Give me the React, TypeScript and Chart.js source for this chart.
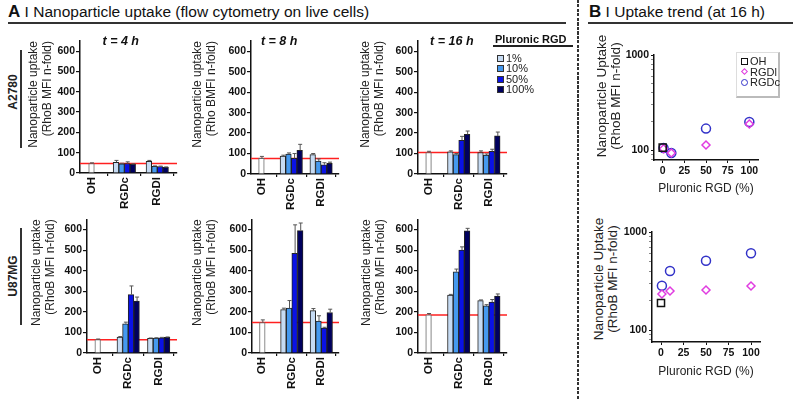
import React, { useEffect, useRef } from 'react';
import { Chart, registerables } from 'chart.js';
Chart.register(...registerables);

const FONT = "'Liberation Sans', Arial, Helvetica, sans-serif";

const groups = ['OH', 'RGDc', 'RGDl'];
const levels = ['1%', '10%', '50%', '100%'];
const levelColors = ['#c6dbf3', '#4599ef', '#0a12e6', '#00005e'];
const timeTitles = ['t = 4 h', 't = 8 h', 't = 16 h'];

// A2780 (values per time point: 4 h, 8 h, 16 h)
const a2780OH = [47, 76, 105];
const a2780OHErr = [3, 10, 6];
const a2780RGDc4h = [53, 45, 47, 43];
const a2780RGDc4hErr = [9, 3, 8, 2];
const a2780RGDl4h = [57, 33, 32, 28];
const a2780RGDl4hErr = [5, 2, 2, 2];
const a2780RGDc8h = [87, 97, 76, 116];
const a2780RGDc8hErr = [5, 6, 24, 29];
const a2780RGDl8h = [95, 63, 45, 52];
const a2780RGDl8hErr = [5, 11, 10, 6];
const a2780RGDc16h = [108, 95, 165, 194];
const a2780RGDc16hErr = [5, 5, 19, 16];
const a2780RGDl16h = [105, 92, 111, 186];
const a2780RGDl16hErr = [8, 6, 10, 19];

// U87MG
const u87OH = [65, 148, 185];
const u87OHErr = [3, 13, 7];
const u87RGDc4h = [77, 142, 284, 252];
const u87RGDc4hErr = [3, 8, 42, 20];
const u87RGDl4h = [71, 72, 74, 76];
const u87RGDl4hErr = [2, 2, 2, 2];
const u87RGDc8h = [211, 218, 484, 595];
const u87RGDc8hErr = [7, 37, 139, 37];
const u87RGDl8h = [206, 155, 121, 197];
const u87RGDl8hErr = [10, 26, 4, 16];
const u87RGDc16h = [281, 395, 500, 594];
const u87RGDc16hErr = [4, 13, 16, 12];
const u87RGDl16h = [255, 229, 247, 277];
const u87RGDl16hErr = [3, 6, 13, 10];

// Panel B: uptake trend at 16 h
const trendOHX = [0];
const trendX = [1, 10, 50, 100];
const trendXTicks = [0, 25, 50, 75, 100];
const trendA2780OH = [106];
const trendA2780RGDl = [103, 93, 113, 188];
const trendA2780RGDc = [105, 93, 168, 197];
const trendU87OH = [189];
const trendU87RGDl = [233, 250, 256, 281];
const trendU87RGDc = [283, 400, 510, 606];

const barTicks = [0, 100, 200, 300, 400, 500, 600];

type Rect = { x: number; y: number; w: number; h: number };
type Plot = { l: number; r: number; t: number; b: number };

const errorBarPlugin = {
  id: 'errbars',
  afterDatasetsDraw(chart: any) {
    const ctx = chart.ctx;
    const ys = chart.scales.y;
    chart.data.datasets.forEach((ds: any, di: number) => {
      const meta = chart.getDatasetMeta(di);
      meta.data.forEach((el: any, i: number) => {
        const v = ds.data[i].y;
        const e = ds.errors ? ds.errors[i] : 0;
        if (v == null || !e) return;
        const y0 = ys.getPixelForValue(v);
        const y1 = ys.getPixelForValue(v + e);
        ctx.save();
        ctx.strokeStyle = '#555';
        ctx.lineWidth = 1;
        ctx.beginPath();
        ctx.moveTo(el.x + 0.5, y0);
        ctx.lineTo(el.x + 0.5, y1);
        ctx.moveTo(el.x - 1.5, y1);
        ctx.lineTo(el.x + 2.5, y1);
        ctx.stroke();
        ctx.restore();
      });
    });
  },
};

const refLinePlugin = {
  id: 'refline',
  beforeDatasetsDraw(chart: any) {
    const ctx = chart.ctx;
    const ys = chart.scales.y;
    const v = chart.data.datasets[0].data[0].y;
    const y = ys.getPixelForValue(v);
    const a = chart.chartArea;
    ctx.save();
    ctx.strokeStyle = '#ff2020';
    ctx.lineWidth = 1.5;
    ctx.beginPath();
    ctx.moveTo(a.left, y);
    ctx.lineTo(a.right, y);
    ctx.stroke();
    ctx.restore();
  },
};

const panelTitlePlugin = {
  id: 'panelTitle',
  afterDraw(chart: any, _args: any, opts: any) {
    if (!opts || !opts.text) return;
    const ctx = chart.ctx;
    const a = chart.chartArea;
    ctx.save();
    ctx.font = `italic bold 12.5px ${FONT}`;
    ctx.fillStyle = '#111';
    ctx.textAlign = 'center';
    ctx.textBaseline = 'middle';
    ctx.fillText(opts.text, a.left + opts.frac * (a.right - a.left), a.top + 1);
    ctx.restore();
  },
};

function makeBarConfig(
  canvas: Rect,
  plot: Plot,
  oh: number,
  ohErr: number,
  rgdc: number[],
  rgdcErr: number[],
  rgdl: number[],
  rgdlErr: number[],
  yTitle2: string,
  title: string,
  titleFrac: number
) {
  const datasets: any[] = [
    {
      label: 'OH',
      data: [
        { x: 0, y: oh },
        { x: 1, y: null },
        { x: 2, y: null },
      ],
      errors: [ohErr, 0, 0],
      backgroundColor: '#ffffff',
      borderColor: '#666',
      borderWidth: 1,
    },
    ...levels.map((lv, i) => ({
      label: lv,
      data: [
        { x: 0, y: null },
        { x: 1, y: rgdc[i] },
        { x: 2, y: rgdl[i] },
      ],
      errors: [0, rgdcErr[i], rgdlErr[i]],
      backgroundColor: levelColors[i],
      borderColor: '#222',
      borderWidth: 1,
    })),
  ];
  return {
    type: 'bar',
    data: { datasets },
    options: {
      animation: false,
      responsive: false,
      maintainAspectRatio: false,
      layout: {
        padding: {
          left: 0,
          bottom: 0,
          top: plot.t - canvas.y,
          right: canvas.x + canvas.w - plot.r,
        },
      },
      datasets: { bar: { barThickness: 5.6, skipNull: true, grouped: true } },
      plugins: {
        legend: { display: false },
        tooltip: { enabled: false },
        panelTitle: { text: title, frac: titleFrac },
      },
      scales: {
        x: {
          type: 'linear',
          min: -0.35,
          max: 2.6,
          offset: false,
          afterBuildTicks: (s: any) => {
            s.ticks = groups.map((_, i) => ({ value: i }));
          },
          afterFit: (s: any) => {
            s.height = canvas.y + canvas.h - plot.b;
          },
          grid: { display: true, drawOnChartArea: false, tickLength: 3, color: '#111', lineWidth: 1.2 },
          border: { display: true, color: '#111', width: 1.5 },
          ticks: {
            autoSkip: false,
            minRotation: 90,
            maxRotation: 90,
            padding: 1,
            color: '#111',
            font: { family: FONT, size: 11.5, weight: 'bold' },
            callback: (v: any) => groups[v] ?? '',
          },
        },
        y: {
          min: 0,
          max: 650,
          afterBuildTicks: (s: any) => {
            s.ticks = barTicks.map((v) => ({ value: v }));
          },
          afterFit: (s: any) => {
            s.width = plot.l - canvas.x;
          },
          grid: { display: true, drawOnChartArea: false, tickLength: 4, color: '#111', lineWidth: 1.2 },
          border: { display: true, color: '#111', width: 1.5 },
          ticks: {
            padding: 1,
            color: '#111',
            font: { family: FONT, size: 10.5, weight: 'bold' },
          },
          title: {
            display: true,
            text: ['Nanoparticle uptake', yTitle2],
            align: 'end',
            padding: 0,
            color: '#222',
            font: { family: FONT, size: 12, lineHeight: 1.15 },
          },
        },
      },
    },
    plugins: [refLinePlugin, errorBarPlugin, panelTitlePlugin],
  };
}

function logTicks(min: number) {
  const out: number[] = [];
  [10, 100].forEach((d) => {
    for (let k = 1; k <= 9; k++) {
      const v = k * d;
      if (v >= min && v <= 1000) out.push(v);
    }
  });
  out.push(1000);
  return out;
}

function makeScatterConfig(
  canvas: Rect,
  plot: Plot,
  yMin: number,
  ohY: number[],
  rgdlY: number[],
  rgdcY: number[]
) {
  return {
    type: 'scatter',
    data: {
      datasets: [
        {
          label: 'OH',
          data: trendOHX.map((x, i) => ({ x, y: ohY[i] })),
          pointStyle: 'rect',
          radius: 5,
          borderColor: '#111',
          backgroundColor: 'rgba(0,0,0,0)',
          borderWidth: 1.5,
        },
        {
          label: 'RGDl',
          data: trendX.map((x, i) => ({ x, y: rgdlY[i] })),
          pointStyle: 'rectRot',
          radius: 4,
          borderColor: '#e03ce0',
          backgroundColor: 'rgba(0,0,0,0)',
          borderWidth: 1.5,
        },
        {
          label: 'RGDc',
          data: trendX.map((x, i) => ({ x, y: rgdcY[i] })),
          pointStyle: 'circle',
          radius: 4.5,
          borderColor: '#3232c8',
          backgroundColor: 'rgba(0,0,0,0)',
          borderWidth: 1.5,
        },
      ],
    },
    options: {
      animation: false,
      responsive: false,
      maintainAspectRatio: false,
      layout: {
        padding: {
          left: 0,
          bottom: 0,
          top: plot.t - canvas.y,
          right: canvas.x + canvas.w - plot.r,
        },
      },
      plugins: { legend: { display: false }, tooltip: { enabled: false } },
      scales: {
        x: {
          type: 'linear',
          min: -10,
          max: 110,
          afterBuildTicks: (s: any) => {
            s.ticks = trendXTicks.map((v) => ({ value: v }));
          },
          afterFit: (s: any) => {
            s.height = canvas.y + canvas.h - plot.b;
          },
          grid: { display: true, drawOnChartArea: false, tickLength: 3, color: '#111' },
          border: { display: true, color: '#111', width: 1.5 },
          ticks: {
            maxRotation: 0,
            padding: 2,
            color: '#111',
            font: { family: FONT, size: 10.5, weight: 'bold' },
          },
          title: {
            display: true,
            text: 'Pluronic RGD (%)',
            padding: 0,
            color: '#222',
            font: { family: FONT, size: 12 },
          },
        },
        y: {
          type: 'logarithmic',
          min: yMin,
          max: 1000,
          afterBuildTicks: (s: any) => {
            s.ticks = logTicks(yMin).map((v) => ({ value: v, major: v === 100 || v === 1000 }));
          },
          afterFit: (s: any) => {
            s.width = plot.l - canvas.x;
          },
          grid: {
            display: true,
            drawOnChartArea: false,
            tickLength: 3,
            tickColor: (c: any) => (c.tick && (c.tick.value === 100 || c.tick.value === 1000) ? '#111' : '#888'),
          },
          border: { display: true, color: '#111', width: 1.5 },
          ticks: {
            autoSkip: false,
            padding: 2,
            color: '#111',
            font: { family: FONT, size: 10.5, weight: 'bold' },
            callback: (v: any) => (v === 100 || v === 1000 ? String(v) : ''),
          },
        },
      },
    },
  };
}

function ChartBox({ rect, make }: { rect: Rect; make: () => any }) {
  const ref = useRef<HTMLCanvasElement>(null);
  useEffect(() => {
    const chart = new Chart(ref.current as HTMLCanvasElement, make());
    return () => chart.destroy();
  }, []);
  return (
    <canvas
      ref={ref}
      width={rect.w}
      height={rect.h}
      style={{ position: 'absolute', left: rect.x, top: rect.y, width: rect.w, height: rect.h }}
    />
  );
}

const abs = (s: any) => ({ position: 'absolute' as const, ...s });

function RotLabel({ x, y, children, style }: any) {
  return (
    <div
      style={abs({
        left: x,
        top: y,
        transform: 'translate(-50%, -50%) rotate(-90deg)',
        whiteSpace: 'nowrap',
        fontFamily: FONT,
        ...style,
      })}
    >
      {children}
    </div>
  );
}

export default function App() {
  const barSpecs = [
    { c: { x: 27, y: 30, w: 155, h: 182 }, p: { l: 80, r: 177, t: 41, b: 173 }, oh: a2780OH[0], ohE: a2780OHErr[0], rc: a2780RGDc4h, rcE: a2780RGDc4hErr, rl: a2780RGDl4h, rlE: a2780RGDl4hErr, t2: '(RhoB MFI n-fold)', title: timeTitles[0], frac: 0.42 },
    { c: { x: 191, y: 30, w: 153, h: 182 }, p: { l: 251, r: 339, t: 41, b: 174 }, oh: a2780OH[1], ohE: a2780OHErr[1], rc: a2780RGDc8h, rcE: a2780RGDc8hErr, rl: a2780RGDl8h, rlE: a2780RGDl8hErr, t2: '(Rho BMFI n-fold)', title: timeTitles[1], frac: 0.32 },
    { c: { x: 359, y: 30, w: 153, h: 182 }, p: { l: 418, r: 507, t: 41, b: 174 }, oh: a2780OH[2], ohE: a2780OHErr[2], rc: a2780RGDc16h, rcE: a2780RGDc16hErr, rl: a2780RGDl16h, rlE: a2780RGDl16hErr, t2: '(RhoB MFI n-fold)', title: timeTitles[2], frac: 0.38 },
    { c: { x: 30, y: 212, w: 152, h: 188 }, p: { l: 87, r: 177, t: 219, b: 353 }, oh: u87OH[0], ohE: u87OHErr[0], rc: u87RGDc4h, rcE: u87RGDc4hErr, rl: u87RGDl4h, rlE: u87RGDl4hErr, t2: '(RhoB MFI n-fold)', title: '', frac: 0 },
    { c: { x: 191, y: 212, w: 153, h: 188 }, p: { l: 252, r: 339, t: 219, b: 353 }, oh: u87OH[1], ohE: u87OHErr[1], rc: u87RGDc8h, rcE: u87RGDc8hErr, rl: u87RGDl8h, rlE: u87RGDl8hErr, t2: '(RhoB MFI n-fold)', title: '', frac: 0 },
    { c: { x: 360, y: 212, w: 152, h: 188 }, p: { l: 418, r: 507, t: 219, b: 353 }, oh: u87OH[2], ohE: u87OHErr[2], rc: u87RGDc16h, rcE: u87RGDc16hErr, rl: u87RGDl16h, rlE: u87RGDl16hErr, t2: '(RhoB MFI n-fold)', title: '', frac: 0 },
  ];

  const scTop = { c: { x: 622, y: 45, w: 148, h: 151 }, p: { l: 654, r: 758, t: 55, b: 160 } };
  const scBot = { c: { x: 620, y: 222, w: 152, h: 157 }, p: { l: 652, r: 760, t: 232, b: 342 } };

  const textStyle = { fontFamily: FONT, color: '#222' };

  return (
    <div style={abs({ left: 0, top: 0, width: 793, height: 400, background: '#fff', overflow: 'hidden' })}>
      {barSpecs.map((s, i) => (
        <ChartBox
          key={i}
          rect={s.c}
          make={() => makeBarConfig(s.c, s.p, s.oh, s.ohE, s.rc, s.rcE, s.rl, s.rlE, s.t2, s.title, s.frac)}
        />
      ))}
      <ChartBox rect={scTop.c} make={() => makeScatterConfig(scTop.c, scTop.p, 78.5, trendA2780OH, trendA2780RGDl, trendA2780RGDc)} />
      <ChartBox rect={scBot.c} make={() => makeScatterConfig(scBot.c, scBot.p, 75.5, trendU87OH, trendU87RGDl, trendU87RGDc)} />

      {/* Header A */}
      <div style={abs({ left: 8, top: 4, fontSize: 15.5, lineHeight: '16px', whiteSpace: 'nowrap', ...textStyle, color: '#111' })}>
        <b style={{ fontSize: 17 }}>A</b> I Nanoparticle uptake (flow cytometry on live cells)
      </div>
      <div style={abs({ left: 8, top: 22, width: 558, height: 2, background: '#333' })} />

      {/* Header B */}
      <div style={abs({ left: 589, top: 4, fontSize: 15.5, lineHeight: '16px', whiteSpace: 'nowrap', ...textStyle, color: '#111' })}>
        <b style={{ fontSize: 17 }}>B</b> I Uptake trend (at 16 h)
      </div>
      <div style={abs({ left: 588, top: 22, width: 205, height: 2, background: '#333' })} />

      {/* Dashed divider */}
      <div
        style={abs({
          left: 577,
          top: 0,
          width: 2,
          height: 400,
          background: 'repeating-linear-gradient(to bottom, #333 0px, #333 3px, transparent 3px, transparent 4.5px)',
        })}
      />

      {/* Row labels */}
      <RotLabel x={13} y={92} style={{ fontSize: 12, fontWeight: 'bold', color: '#222' }}>A2780</RotLabel>
      <div style={abs({ left: 20, top: 50, width: 1.5, height: 98, background: '#333' })} />
      <RotLabel x={13} y={276} style={{ fontSize: 12, fontWeight: 'bold', color: '#222' }}>U87MG</RotLabel>
      <div style={abs({ left: 20, top: 228, width: 1.5, height: 97, background: '#333' })} />

      {/* Legend A */}
      <div style={abs({ left: 495, top: 34, fontSize: 11, fontWeight: 'bold', lineHeight: '11px', whiteSpace: 'nowrap', ...textStyle, color: '#111' })}>
        Pluronic RGD
      </div>
      <div style={abs({ left: 493, top: 45, width: 80, height: 1.5, background: '#222' })} />
      {levels.map((lv, i) => (
        <React.Fragment key={lv}>
          <div
            style={abs({
              left: 497,
              top: 55 + i * 10.3,
              width: 7,
              height: 7,
              boxSizing: 'border-box',
              border: '1px solid #333',
              background: levelColors[i],
            })}
          />
          <div style={abs({ left: 506, top: 53 + i * 10.3, fontSize: 11, lineHeight: '11px', ...textStyle })}>{lv}</div>
        </React.Fragment>
      ))}

      {/* Scatter y titles */}
      <RotLabel x={609} y={96} style={{ fontSize: 13.5, lineHeight: '14px', textAlign: 'center', color: '#222' }}>
        Nanoparticle Uptake
        <br />
        (RhoB MFI n-fold)
      </RotLabel>
      <RotLabel x={606} y={279} style={{ fontSize: 13.5, lineHeight: '14px', textAlign: 'center', color: '#222' }}>
        Nanoparticle Uptake
        <br />
        (RhoB MFI n-fold)
      </RotLabel>

      {/* Scatter legend */}
      <div
        style={abs({
          left: 736,
          top: 52,
          width: 44,
          height: 46,
          boxSizing: 'border-box',
          borderTop: '1px solid #ddd',
          borderLeft: '1px solid #ddd',
          borderRight: '2px solid #bbb',
          borderBottom: '2px solid #bbb',
        })}
      />
      <div style={abs({ left: 741, top: 58, width: 7, height: 7, boxSizing: 'border-box', border: '1.5px solid #111' })} />
      <div style={abs({ left: 742, top: 69, width: 5, height: 5, boxSizing: 'border-box', border: '1.5px solid #e03ce0', transform: 'rotate(45deg)' })} />
      <div style={abs({ left: 741, top: 78.5, width: 7, height: 7, boxSizing: 'border-box', border: '1.5px solid #3232c8', borderRadius: '50%' })} />
      {['OH', 'RGDl', 'RGDc'].map((t, i) => (
        <div key={t} style={abs({ left: 750, top: 56 + i * 10.5, fontSize: 11, lineHeight: '11px', ...textStyle })}>{t}</div>
      ))}
    </div>
  );
}
